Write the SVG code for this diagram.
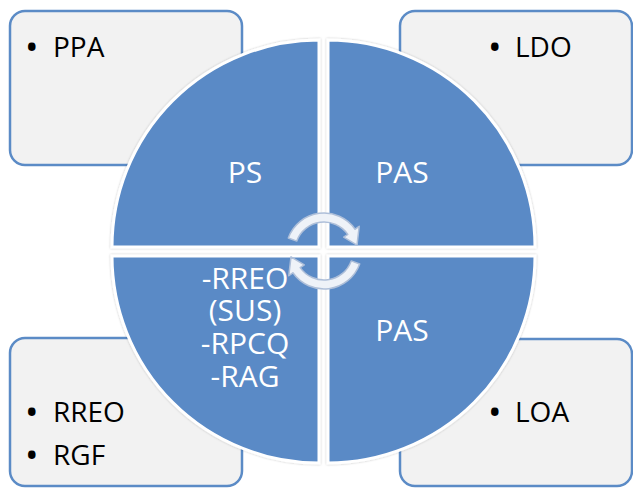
<svg xmlns="http://www.w3.org/2000/svg" width="633" height="489" viewBox="0 0 633 489">
  <style>
    .box { fill: #f2f2f2; stroke: #5b8bc6; stroke-width: 2.5; }
    .quad { fill: #5a8ac6; stroke: #ffffff; stroke-width: 3; filter: url(#sh); }
    .qt { font-family: "Open Sans", "Liberation Sans", sans-serif; font-size: 30px; fill: #ffffff; text-anchor: middle; }
    .bt { font-family: "Open Sans", "Liberation Sans", sans-serif; font-size: 28px; fill: #000000; }
    .bul { font-size: 36px; }
    .arr { fill: #eef2f8; stroke: #aebfd9; stroke-width: 1.5; stroke-linejoin: round; }
  </style>
  <defs>
    <filter id="sh" x="-5%" y="-5%" width="110%" height="110%">
      <feDropShadow dx="0" dy="0" stdDeviation="1.2" flood-color="#000000" flood-opacity="0.25"/>
    </filter>
    <path id="cyc" d="M288.3,238 A38,38 0 0 1 355.1,229.2 L359.2,226.3 L357,245.2 L343.7,237.2 L347.8,234.4 A29,29 0 0 0 296.75,241.1 Z"/>
  </defs>
  <rect width="633" height="489" fill="#ffffff"/>

  <g id="box-tl">
    <rect class="box" x="10" y="11" width="232" height="154" rx="15"/>
    <text class="bt" y="57"><tspan class="bul" x="25" dy="3">•</tspan><tspan x="53" dy="-3">PPA</tspan></text>
  </g>
  <g id="box-tr">
    <rect class="box" x="400" y="11" width="232" height="154" rx="15"/>
    <text class="bt" y="57"><tspan class="bul" x="488" dy="3">•</tspan><tspan x="515" dy="-3">LDO</tspan></text>
  </g>
  <g id="box-bl">
    <rect class="box" x="10" y="338" width="232" height="148" rx="15"/>
    <text class="bt" y="422"><tspan class="bul" x="25" dy="3">•</tspan><tspan x="53" dy="-3">RREO</tspan></text>
    <text class="bt" y="465"><tspan class="bul" x="25" dy="3">•</tspan><tspan x="53" dy="-3">RGF</tspan></text>
  </g>
  <g id="box-br">
    <rect class="box" x="400" y="339" width="232" height="147" rx="15"/>
    <text class="bt" y="422"><tspan class="bul" x="488" dy="3">•</tspan><tspan x="515" dy="-3">LOA</tspan></text>
  </g>

  <g id="quad-tl">
    <path class="quad" d="M319,247 L112,247 A207,207 0 0 1 319,40 Z"/>
    <text class="qt" x="245" y="183">PS</text>
  </g>
  <g id="quad-tr">
    <path class="quad" d="M328,247 L328,40 A207,207 0 0 1 535,247 Z"/>
    <text class="qt" x="402" y="183">PAS</text>
  </g>
  <g id="quad-br">
    <path class="quad" d="M328,256 L535,256 A207,207 0 0 1 328,463 Z"/>
    <text class="qt" x="402" y="341">PAS</text>
  </g>
  <g id="quad-bl">
    <path class="quad" d="M319,256 L319,463 A207,207 0 0 1 112,256 Z"/>
    <text class="qt" y="289"><tspan x="245">-RREO</tspan><tspan x="245" dy="32">(SUS)</tspan><tspan x="245" dy="33">-RPCQ</tspan><tspan x="245" dy="33">-RAG</tspan></text>
  </g>

  <g id="connectors">
    <use href="#cyc" class="arr"/>
    <use href="#cyc" class="arr" transform="rotate(180 324 251)"/>
  </g>
</svg>
